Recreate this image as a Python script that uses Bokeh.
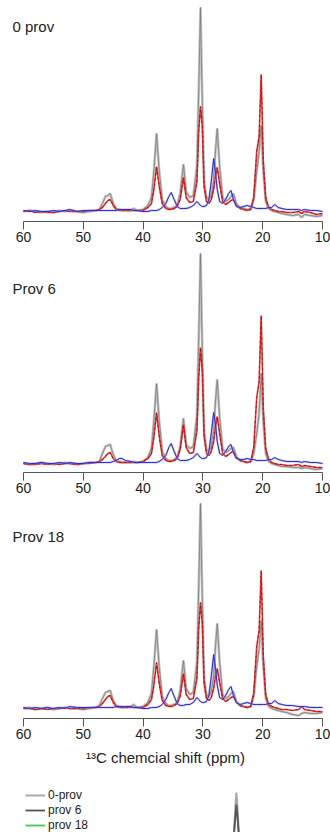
from bokeh.plotting import figure
from bokeh.models import Range1d, Label, Legend, LegendItem, ColumnDataSource
from bokeh.layouts import column
from bokeh.embed import file_html
from bokeh.resources import INLINE

# chemical shift grid (ppm)
ppm = [60, 59, 58, 57, 56, 55, 54, 53, 52.3, 51,
       50, 49, 48, 47.3, 46.8, 46.3, 45.9, 45.5, 45.0, 44.5,
       44, 43.5, 43, 42, 41.6, 41, 40, 39.2, 38.6, 38.2,
       37.75, 37.3, 36.8, 36.2, 35.7, 35.3, 34.8, 34.3, 33.8, 33.25,
       32.8, 32.2, 31.6, 31.0, 30.7, 30.4, 30.1, 29.8, 29.4, 29.0,
       28.6, 28.2, 27.9, 27.6, 27.2, 26.7, 26.2, 25.7, 25.3, 24.9,
       24.4, 23.8, 23.2, 22.6, 22.0, 21.5, 21.0, 20.6, 20.25, 19.9,
       19.5, 19.0, 18.5, 18.0, 17.4, 16.8, 16, 15, 14, 13.5,
       13, 12, 11, 10]

# panel "0 prov"
grey_0 = [0, 1, 0, -1, 0, -1, 1, 0, 1, 0,
          -1, 0, 1, 2, 8, 15, 16, 18, 8, 3,
          2, 1, 1, 1, 3, 1, 2, 6, 14, 40,
          78, 40, 12, 5, 3, 3, 4, 6, 18, 47,
          20, 14, 16, 45, 120, 204, 110, 30, 14, 12,
          16, 30, 60, 83, 45, 14, 10, 12, 15, 18,
          8, 4, 3, 2, 3, 12, 40, 60, 86, 40,
          10, 3, 1, 0, -1, -2, -3, -4, -3, -6,
          -3, -4, -5, -4]
red_0 = [0, 1, -1, 0, -1, -1, 0, 1, 0, 0,
         0, 1, 1, 2, 4, 8, 11, 12, 6, 2,
         1, 1, 1, 1, 1, 1, 1, 4, 8, 22,
         45, 25, 8, 3, 2, 2, 3, 5, 12, 34,
         14, 9, 10, 30, 80, 105, 85, 25, 10, 8,
         12, 22, 35, 44, 28, 10, 7, 9, 11, 12,
         6, 3, 2, 1, 2, 14, 60, 75, 137, 50,
         14, 4, 2, 1, 0, 0, -1, -1, 0, -2,
         0, -1, -3, -2]
blue_0 = [1, 0, 1, 0, 0, 1, 0, 1, 2, 0,
          1, 1, 1, 1, 1, 1, 1, 1, 1, 1,
          2, 2, 2, 2, 1, 1, 0, 0, 1, 1,
          1, 2, 4, 8, 15, 19, 12, 5, 3, 3,
          3, 4, 6, 10, 8, 6, 5, 5, 6, 12,
          30, 53, 40, 22, 10, 8, 12, 18, 21, 12,
          5, 4, 5, 6, 5, 4, 3, 3, 3, 3,
          3, 4, 4, 7, 4, 3, 2, 2, 2, 1,
          2, 1, 1, 0]

# panel "Prov 6"
grey_6 = [0, -1, 0, 1, 0, -1, 0, 1, 0, -1,
          0, 1, 1, 2, 10, 17, 18, 19, 9, 3,
          2, 1, 1, 1, 2, 1, 2, 6, 15, 42,
          80, 42, 12, 5, 3, 3, 4, 6, 17, 45,
          19, 15, 17, 48, 125, 210, 112, 32, 14, 12,
          17, 32, 62, 84, 46, 15, 11, 13, 15, 16,
          7, 3, 2, 1, 2, 10, 30, 50, 90, 42,
          10, 2, 0, -1, -2, -3, -3, -4, -4, -5,
          -4, -5, -6, -5]
red_6 = [0, -1, -1, 0, -1, 0, -1, 0, 0, -1,
         0, 0, 1, 2, 4, 7, 10, 11, 5, 2,
         1, 1, 1, 1, 1, 1, 2, 5, 10, 26,
         51, 27, 8, 3, 2, 2, 3, 5, 14, 39,
         16, 10, 11, 33, 85, 116, 92, 27, 10, 8,
         12, 22, 36, 47, 30, 10, 7, 9, 11, 12,
         6, 3, 2, 1, 2, 16, 66, 82, 148, 55,
         15, 4, 1, 0, -1, -1, -2, -2, -1, -3,
         -2, -3, -4, -4]
blue_6 = [1, 0, 0, 1, 0, 0, 1, 0, 1, 0,
          0, 1, 1, 1, 1, 1, 1, 1, 2, 3,
          5, 5, 3, 2, 1, 1, 1, 1, 1, 1,
          1, 2, 4, 8, 16, 20, 12, 5, 3, 3,
          3, 4, 6, 10, 8, 6, 5, 5, 6, 12,
          30, 51, 40, 22, 10, 8, 12, 17, 19, 11,
          5, 4, 4, 5, 4, 4, 3, 3, 3, 3,
          3, 4, 4, 6, 4, 3, 2, 2, 2, 1,
          2, 1, 1, 0]

# panel "Prov 18"
grey_18 = [0, 1, -1, 0, 1, -1, 0, 1, 0, 0,
           -1, 0, 1, 3, 10, 16, 17, 18, 8, 3,
           2, 1, 1, 2, 4, 1, 2, 6, 15, 42,
           79, 41, 12, 5, 3, 3, 4, 6, 18, 48,
           20, 14, 16, 46, 122, 205, 110, 30, 14, 12,
           17, 32, 62, 85, 46, 14, 10, 12, 15, 17,
           7, 3, 2, 1, 2, 12, 42, 60, 88, 42,
           10, 2, 0, -1, -2, -3, -4, -6, -7, -5,
           -4, -5, -5, -4]
red_18 = [0, 0, -1, 0, -1, 0, 0, 1, 0, 0,
          0, 1, 1, 2, 5, 9, 12, 13, 6, 2,
          1, 1, 1, 1, 1, 1, 1, 4, 9, 23,
          46, 25, 8, 3, 2, 2, 3, 5, 12, 35,
          14, 9, 10, 30, 80, 106, 85, 25, 10, 8,
          11, 20, 32, 40, 26, 10, 7, 9, 11, 12,
          6, 3, 2, 1, 2, 15, 62, 78, 138, 52,
          14, 4, 2, 1, 0, -1, -1, -2, -1, 2,
          -1, -2, -3, -3]
blue_18 = [1, 0, 1, 0, 1, 0, 1, 0, 2, 1,
           1, 1, 1, 1, 1, 1, 1, 1, 1, 2,
           2, 2, 2, 2, 1, 1, 0, 0, 1, 1,
           1, 2, 4, 9, 16, 20, 12, 5, 3, 3,
           4, 4, 6, 11, 9, 7, 6, 6, 7, 13,
           32, 54, 41, 23, 11, 9, 13, 19, 22, 13,
           6, 4, 5, 6, 5, 4, 4, 4, 4, 4,
           4, 5, 5, 8, 5, 4, 3, 3, 2, 2,
           2, 1, 1, 1]

tick_values = [60, 50, 40, 30, 20, 10]
panel_titles = ["0 prov", "Prov 6", "Prov 18"]
axis_title = "\u00b9\u00b3C chemcial shift (ppm)"

# partially visible bottom chart
legend_labels = ["0-prov", "prov 6", "prov 18"]
p4_ppm = [25.3, 24.8, 24.55, 24.4, 24.25, 24.0, 23.5]
p4_light = [-30, 2, 28, 40, 28, 2, -30]
p4_dark = [-30, -2, 18, 28, 18, -2, -30]

FONT = "Liberation Sans"
W = 330
X0, X1 = 63.846, 8.662


def panel(title, grey, red, blue, frame_top, axis_y, base_y, bottom, label_y, with_title=False):
    frame_h = axis_y - frame_top
    p = figure(width=W, height=frame_h + bottom, output_backend="svg", toolbar_location=None,
               x_range=Range1d(X0, X1), y_range=Range1d(-(axis_y - base_y), base_y - frame_top),
               min_border_left=0, min_border_right=0, min_border_top=0, min_border_bottom=bottom)
    p.outline_line_color = None
    p.grid.visible = False
    p.yaxis.visible = False
    ax = p.xaxis[0]
    ax.ticker = tick_values
    ax.bounds = (10, 60)
    ax.minor_tick_line_color = None
    ax.major_tick_out = 8
    ax.major_tick_in = 0
    ax.major_label_standoff = 2
    ax.axis_line_color = "#555555"
    ax.major_tick_line_color = "#555555"
    ax.major_label_text_font = FONT
    ax.major_label_text_font_size = "14px"
    ax.major_label_text_color = "#222222"
    if with_title:
        ax.axis_label = axis_title
        ax.axis_label_text_font = FONT
        ax.axis_label_text_font_size = "15px"
        ax.axis_label_text_font_style = "normal"
        ax.axis_label_text_color = "#222222"
        ax.axis_label_standoff = 7
    src = ColumnDataSource(dict(x=ppm, g=grey, r=red, b=blue))
    p.line("x", "g", source=src, line_color="#c4c4c4", line_width=2.6)
    p.line("x", "g", source=src, line_color="#7c7c7c", line_width=0.8)
    p.line("x", "r", source=src, line_color="#e03030", line_width=1.6)
    p.line("x", "r", source=src, line_color="#900000", line_width=0.7, line_dash="2 3")
    p.line("x", "b", source=src, line_color="#8c8ce8", line_width=2.0, line_alpha=0.6)
    p.line("x", "b", source=src, line_color="#2b2bd0", line_width=1.0)
    p.add_layout(Label(x=61.84, y=label_y, text=title, text_baseline="middle",
                       text_font=FONT, text_font_size="15px", text_color="#222222"))
    return p


p1 = panel(panel_titles[0], grey_0, red_0, blue_0, 0, 221, 211, 30, 185)
p2 = panel(panel_titles[1], grey_6, red_6, blue_6, 251, 472, 463, 30, 175)
p3 = panel(panel_titles[2], grey_18, red_18, blue_18, 502, 718, 708, 55, 172, with_title=True)

h4 = 832 - (502 + 216 + 55)
p4 = figure(width=W, height=h4, output_backend="svg", toolbar_location=None,
            x_range=Range1d(X0, X1), y_range=Range1d(0, h4),
            min_border_left=0, min_border_right=0, min_border_top=0, min_border_bottom=0)
p4.outline_line_color = None
p4.grid.visible = False
p4.axis.visible = False
src4 = ColumnDataSource(dict(x=p4_ppm, l=p4_light, d=p4_dark))
rg = p4.line("x", "d", source=src4, line_color="#44cc44", line_width=1.8)
rl = p4.line("x", "l", source=src4, line_color="#aaaaaa", line_width=2.0)
rd = p4.line("x", "d", source=src4, line_color="#555555", line_width=1.8)
leg = Legend(items=[LegendItem(label=legend_labels[0], renderers=[rl]),
                    LegendItem(label=legend_labels[1], renderers=[rd]),
                    LegendItem(label=legend_labels[2], renderers=[rg])],
             location=(25, 0), padding=0, margin=0, spacing=1,
             glyph_width=20, glyph_height=12, label_height=12, label_standoff=3,
             label_text_font=FONT, label_text_font_size="12px", label_text_color="#222222",
             background_fill_alpha=0, border_line_alpha=0)
p4.add_layout(leg)

layout = column(p1, p2, p3, p4, spacing=0)
open("out.html", "w").write(file_html(layout, INLINE))
